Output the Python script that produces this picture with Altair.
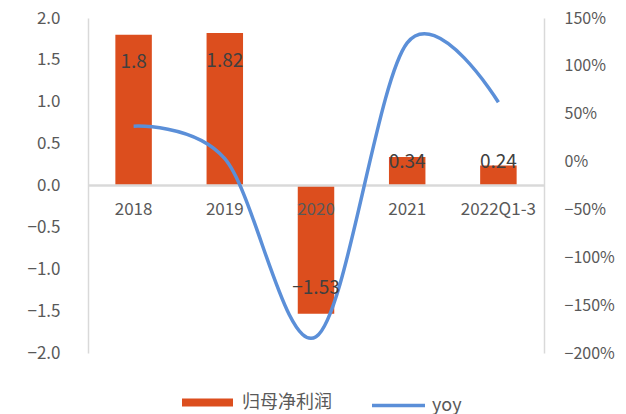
import altair as alt
import pandas as pd

categories = ["2018", "2019", "2020", "2021", "2022Q1-3"]
profit = [1.8, 1.82, -1.53, 0.34, 0.24]
yoy = [0.37, 0.03, -1.83, 1.24, 0.62]
left_ticks = [-2.0, -1.5, -1.0, -0.5, 0.0, 0.5, 1.0, 1.5, 2.0]
right_ticks = [-2.0, -1.5, -1.0, -0.5, 0.0, 0.5, 1.0, 1.5]
bar_name = "归母净利润"
line_name = "yoy"

ORANGE = "#DC4E1E"
BLUE = "#5B8FD8"
GRAY = "#595959"
AXIS = "#D9D9D9"
FONT = "Noto Sans CJK SC"

df = pd.DataFrame({"cat": categories, "profit": profit, "yoy": yoy})
df["s1"] = bar_name
df["s2"] = line_name

base = alt.Chart(df)
xenc = alt.X("cat:N", sort=categories, title=None, axis=None,
             scale=alt.Scale(paddingInner=0.6, paddingOuter=0.3))


def lscale():
    return alt.Scale(domain=[-2, 2], nice=False, zero=False)


bars = base.mark_bar().encode(
    x=xenc,
    y=alt.Y("profit:Q", scale=lscale(), title=None,
            axis=alt.Axis(values=left_ticks, format=".1f", ticks=False, grid=False,
                          domainColor=AXIS, domainWidth=1.5, labelColor=GRAY,
                          labelFontSize=17, labelFont=FONT, labelPadding=28)),
    fill=alt.Fill("s1:N", scale=alt.Scale(domain=[bar_name], range=[ORANGE]),
                  legend=alt.Legend(title=None, orient="none", legendX=94, legendY=359,
                                    symbolType="M-1,-0.16H1V0.16H-1Z", symbolSize=2601,
                                    symbolStrokeWidth=0, labelFontSize=18, labelFont=FONT,
                                    labelColor=GRAY, labelOffset=9, padding=0)),
)

zero = base.mark_rule(color=AXIS, strokeWidth=1.5).encode(
    y=alt.datum(0, scale=lscale())
)

xlabels = base.mark_text(dy=24, fontSize=17, font=FONT, color=GRAY).encode(
    x=xenc, y=alt.datum(0, scale=lscale()), text="cat:N"
)

dlabels = base.transform_calculate(
    labelpos="datum.profit > 0 ? max(datum.profit - 0.33, 0.28) : min(datum.profit + 0.31, -0.28)"
).mark_text(fontSize=19, font=FONT, color="#404040", baseline="middle").encode(
    x=xenc, y=alt.Y("labelpos:Q", scale=lscale(), axis=None),
    text=alt.Text("profit:Q", format=".2~f")
)

line = base.mark_line(interpolate="cardinal", strokeWidth=3.5).encode(
    x=xenc,
    y=alt.Y("yoy:Q", scale=alt.Scale(domain=[-2, 1.5], nice=False, zero=False), title=None,
            axis=alt.Axis(orient="right", values=right_ticks, format=".0%", ticks=False,
                          grid=False, domainColor=AXIS, domainWidth=1.5, labelColor=GRAY,
                          labelFontSize=16, labelFont=FONT, labelPadding=20)),
    stroke=alt.Stroke("s2:N", scale=alt.Scale(domain=[line_name], range=[BLUE]),
                      legend=alt.Legend(title=None, orient="none", legendX=282, legendY=359,
                                        symbolType="stroke", symbolSize=2809,
                                        symbolStrokeWidth=3.5, labelFontSize=18,
                                        labelFont=FONT, labelColor=GRAY, labelOffset=5,
                                        padding=0)),
)

chart = alt.layer(alt.layer(bars, zero, xlabels), line, dlabels).resolve_scale(
    y="independent", fill="independent", stroke="independent"
).properties(
    width=456, height=335,
    autosize=alt.AutoSizeParams(type="none"),
    padding={"left": 88, "top": 18, "right": 82, "bottom": 61},
).configure_view(stroke=None)

chart.save("out.html", embed_options={"renderer": "svg", "actions": False})
